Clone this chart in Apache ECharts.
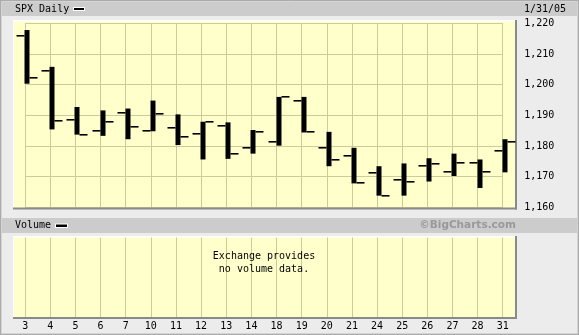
<!DOCTYPE html>
<html>
<head>
<meta charset="utf-8">
<script src="https://cdn.jsdelivr.net/npm/echarts@6/dist/echarts.min.js"></script>
<style>
html,body{margin:0;padding:0;background:#ececec;}
#c{width:579px;height:335px;}
</style>
</head>
<body>
<div id="c"></div>
<script>
// ---- data ----
var days = ['3','4','5','6','7','10','11','12','13','14','18','19','20','21','24','25','26','27','28','31'];
var opens  = [1215.9,1204.3,1188.5,1184.9,1190.7,1184.8,1185.8,1183.8,1186.4,1179.3,1181.2,1194.7,1179.3,1176.6,1171.1,1168.8,1173.4,1171.4,1174.5,1178.3];
var highs  = [1217.8,1205.8,1192.7,1191.6,1192.2,1194.8,1190.3,1187.9,1187.7,1185.2,1196.0,1196.0,1184.6,1179.4,1173.4,1174.3,1176.0,1177.5,1175.6,1182.2];
var lows   = [1200.3,1185.4,1183.7,1183.3,1182.2,1184.8,1180.3,1175.6,1175.8,1177.5,1180.1,1184.4,1173.4,1167.8,1163.8,1163.8,1168.4,1170.2,1166.3,1171.4];
var closes = [1202.1,1188.1,1183.7,1187.9,1186.2,1190.3,1183.0,1187.7,1177.5,1184.5,1196.0,1184.6,1175.4,1167.9,1163.8,1168.4,1174.1,1174.6,1171.4,1181.3];
var yTicks = [1160,1170,1180,1190,1200,1210,1220];
var title = 'SPX Daily';
var dateLabel = '1/31/05';
var volTitle = 'Volume';
var credit = '\u00a9BigCharts.com';
var noVol = ['Exchange provides','no volume data.'];

var ohlc = days.map(function(d,i){ return [i, opens[i], closes[i], highs[i], lows[i]]; });

var MONO = '"DejaVu Sans Mono", monospace';
var GRID = '#cccc99';
var PLOT = '#ffffcc';

var chart = echarts.init(document.getElementById('c'), null, {renderer:'canvas'});

function fmt(v){ return String(v).replace(/\B(?=(\d{3})+(?!\d))/g, ','); }

var option = {
  animation:false,
  backgroundColor:'#ececec',
  graphic:[
    // outer frame
    {type:'rect', z:0, shape:{x:0.5,y:0.5,width:578,height:334}, style:{fill:'#ececec', stroke:'#999999', lineWidth:1}},
    {type:'rect', z:0, shape:{x:1,y:1,width:577,height:333}, style:{fill:null, stroke:'#bdbdbd', lineWidth:1}},
    // header 1
    {type:'rect', z:1, shape:{x:2,y:2,width:575,height:14}, style:{fill:'#cccccc'}},
    {type:'text', z:5, x:15, y:9.5, style:{text:title, font:'10px '+MONO, fill:'#000', verticalAlign:'middle'}},
    {type:'rect', z:5, shape:{x:73,y:7,width:12,height:4}, style:{fill:'#ffffff'}},
    {type:'rect', z:6, shape:{x:74,y:8,width:10,height:2}, style:{fill:'#000000'}},
    {type:'text', z:5, x:524, y:9.5, style:{text:dateLabel, font:'10px '+MONO, fill:'#000', verticalAlign:'middle'}},
    // price plot background
    {type:'rect', z:1, shape:{x:13,y:20,width:503,height:189}, style:{fill:'#ffffff'}},
    {type:'rect', z:1, shape:{x:14,y:21.5,width:501,height:186.5}, style:{fill:PLOT}},
    {type:'rect', z:4, shape:{x:13,y:207.5,width:504,height:2}, style:{fill:'#8a8a8a'}},
    {type:'rect', z:4, shape:{x:515,y:20,width:2,height:189.5}, style:{fill:'#8a8a8a'}},
    // header 2
    {type:'rect', z:1, shape:{x:2,y:218,width:575,height:15}, style:{fill:'#cccccc'}},
    {type:'text', z:5, x:15, y:225.7, style:{text:volTitle, font:'10px '+MONO, fill:'#000', verticalAlign:'middle'}},
    {type:'rect', z:5, shape:{x:55,y:223.5,width:13,height:4.5}, style:{fill:'#ffffff'}},
    {type:'rect', z:6, shape:{x:56,y:224.5,width:11,height:2.5}, style:{fill:'#000000'}},
    {type:'text', z:5, x:516, y:225.7, style:{text:credit, font:'bold 10.5px "DejaVu Sans", Verdana, sans-serif', fill:'#999999', align:'right', verticalAlign:'middle'}},
    // volume plot background
    {type:'rect', z:1, shape:{x:13,y:236,width:503,height:82}, style:{fill:'#ffffff'}},
    {type:'rect', z:1, shape:{x:14,y:237.5,width:501,height:80}, style:{fill:PLOT}},
    {type:'rect', z:4, shape:{x:13,y:317,width:504,height:2}, style:{fill:'#8a8a8a'}},
    {type:'rect', z:4, shape:{x:515,y:236,width:2,height:83}, style:{fill:'#8a8a8a'}},
    {type:'text', z:5, x:264, y:256.7, style:{text:noVol[0], font:'10px '+MONO, fill:'#000', align:'center', verticalAlign:'middle'}},
    {type:'text', z:5, x:264, y:269.2, style:{text:noVol[1], font:'10px '+MONO, fill:'#000', align:'center', verticalAlign:'middle'}}
  ],
  grid:[
    {left:25.2, top:23.3, width:477.5, height:184},
    {left:25.2, top:237.5, width:477.5, height:80}
  ],
  xAxis:[
    {type:'category', gridIndex:0, data:days, boundaryGap:false, z:3,
     axisLine:{show:false}, axisTick:{show:false}, axisLabel:{show:false},
     splitLine:{show:true, interval:0, lineStyle:{color:GRID, width:1}}},
    {type:'category', gridIndex:1, data:days, boundaryGap:false, z:3,
     axisLine:{show:false}, axisTick:{show:false},
     axisLabel:{show:true, interval:0, margin:3.5, color:'#000', fontFamily:'DejaVu Sans Mono', fontSize:10},
     splitLine:{show:true, interval:0, lineStyle:{color:GRID, width:1}}}
  ],
  yAxis:[
    {type:'value', gridIndex:0, position:'right', min:yTicks[0], max:yTicks[yTicks.length-1], interval:10, z:3,
     axisLine:{show:false}, axisTick:{show:false},
     axisLabel:{show:true, margin:21.5, color:'#000', fontFamily:'DejaVu Sans Mono', fontSize:10, formatter:function(v){return fmt(v);}},
     splitLine:{show:true, lineStyle:{color:GRID, width:1}}},
    {type:'value', gridIndex:1, min:0, max:1, show:false, splitLine:{show:false}}
  ],
  series:[{
    type:'custom', xAxisIndex:0, yAxisIndex:0, z:10, clip:false,
    data:ohlc,
    renderItem:function(params, api){
      var i = api.value(0);
      var o = api.coord([i, api.value(1)]);
      var c = api.coord([i, api.value(2)]);
      var h = api.coord([i, api.value(3)]);
      var l = api.coord([i, api.value(4)]);
      var cx = Math.round(h[0]) - 0.5;
      return {type:'group', children:[
        {type:'rect', shape:{x:cx, y:h[1], width:5, height:l[1]-h[1]}, style:{fill:'#000'}},
        {type:'rect', shape:{x:cx-8, y:Math.round(o[1])-1, width:8, height:1.6}, style:{fill:'#000'}},
        {type:'rect', shape:{x:cx+5, y:Math.round(c[1])-1, width:8, height:1.6}, style:{fill:'#000'}}
      ]};
    }
  }]
};
chart.setOption(option);
</script>
</body>
</html>
